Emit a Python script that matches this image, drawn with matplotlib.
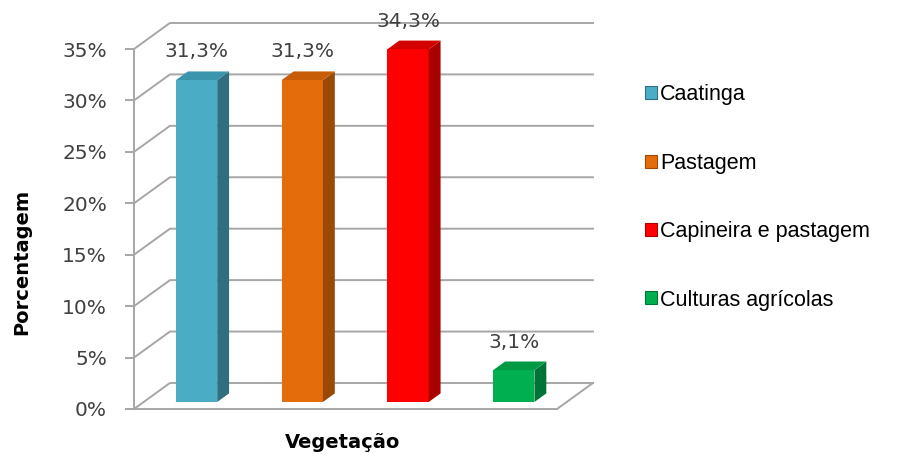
import matplotlib
matplotlib.use("Agg")
import matplotlib.pyplot as plt
from matplotlib.patches import Polygon, Patch

# data
categories = ["Caatinga", "Pastagem", "Capineira e pastagem", "Culturas agrícolas"]
values = [31.3, 31.3, 34.3, 3.1]
labels = ["31,3%", "31,3%", "34,3%", "3,1%"]
yticks = [0, 5, 10, 15, 20, 25, 30, 35]
ytick_labels = ["0%", "5%", "10%", "15%", "20%", "25%", "30%", "35%"]

# face colours: front, side, top
front_cols = ["#4bacc6", "#e46c0a", "#ff0000", "#00b050"]
side_cols = ["#2f6f80", "#9a4a06", "#a80000", "#007436"]
top_cols = ["#3b95ad", "#c85d08", "#d40000", "#009a45"]

# pseudo 3d depth (data units)
dx, dy = 0.34, 2.53
f0, f1 = 0.27, 0.60
w = 0.39
grid_col = "#a6a6a6"
txt_col = "#404040"

fig = plt.figure(figsize=(9.01, 4.54), dpi=100)
ax = fig.add_axes([134 / 901, 45 / 454, 423 / 901, 360 / 454])
ax.set_xlim(0, len(categories))
ax.set_ylim(0, 35)
ax.patch.set_alpha(0)

for s in ["top", "right"]:
    ax.spines[s].set_visible(False)
for s in ["left", "bottom"]:
    ax.spines[s].set_color(grid_col)
    ax.spines[s].set_linewidth(1.4)
ax.set_xticks([])
ax.set_yticks(yticks)
ax.set_yticklabels(ytick_labels, fontsize=14.5, color=txt_col)
ax.tick_params(axis="y", length=6.5, width=1.4, color=grid_col, pad=13)

# back wall gridlines and floor
n = len(categories)
for v in yticks:
    ax.plot([0, dx, n + dx], [v, v + dy, v + dy], color=grid_col, lw=1.4,
            clip_on=False, zorder=1, solid_joinstyle="miter")
ax.plot([n, n + dx], [0, dy], color=grid_col, lw=1.4, clip_on=False, zorder=1)

# bars
ddx, ddy = (f1 - f0) * dx, (f1 - f0) * dy
for i, v in enumerate(values):
    x0 = i + 0.5 - w / 2 + f0 * dx
    y0 = f0 * dy
    front = Polygon([(x0, y0), (x0 + w, y0), (x0 + w, y0 + v), (x0, y0 + v)],
                    closed=True, fc=front_cols[i], ec="none", zorder=3, clip_on=False)
    side = Polygon([(x0 + w, y0), (x0 + w + ddx, y0 + ddy), (x0 + w + ddx, y0 + ddy + v),
                    (x0 + w, y0 + v)], closed=True, fc=side_cols[i], ec="none", zorder=3,
                   clip_on=False)
    top = Polygon([(x0, y0 + v), (x0 + w, y0 + v), (x0 + w + ddx, y0 + v + ddy),
                   (x0 + ddx, y0 + v + ddy)], closed=True, fc=top_cols[i], ec="none",
                  zorder=3, clip_on=False)
    for p in (front, side, top):
        ax.add_patch(p)
    ax.annotate(labels[i], xy=(i + 0.5 + f0 * dx, v + f1 * dy), xytext=(0, 14),
                textcoords="offset points", ha="center", va="center",
                fontsize=14.5, color=txt_col, annotation_clip=False, zorder=4)

# axis titles
fig.text(22 / 901, 1 - 262 / 454, "Porcentagem", rotation=90, ha="center", va="center",
         fontsize=14, fontweight="bold")
fig.text(343 / 901, 1 - 442 / 454, "Vegetação", ha="center", va="center",
         fontsize=14, fontweight="bold")

# legend
handles = [Patch(fc=front_cols[i], ec=side_cols[i], lw=0.8) for i in range(n)]
fig.legend(handles, categories, loc="center left", bbox_to_anchor=(645 / 901, 1 - 197.5 / 454),
           frameon=False, prop={"family": "Liberation Sans", "size": 15.5},
           handlelength=0.55, handleheight=0.55, handletextpad=0.15,
           labelspacing=2.2, borderpad=0, borderaxespad=0)

fig.savefig("out.png", dpi=100)
